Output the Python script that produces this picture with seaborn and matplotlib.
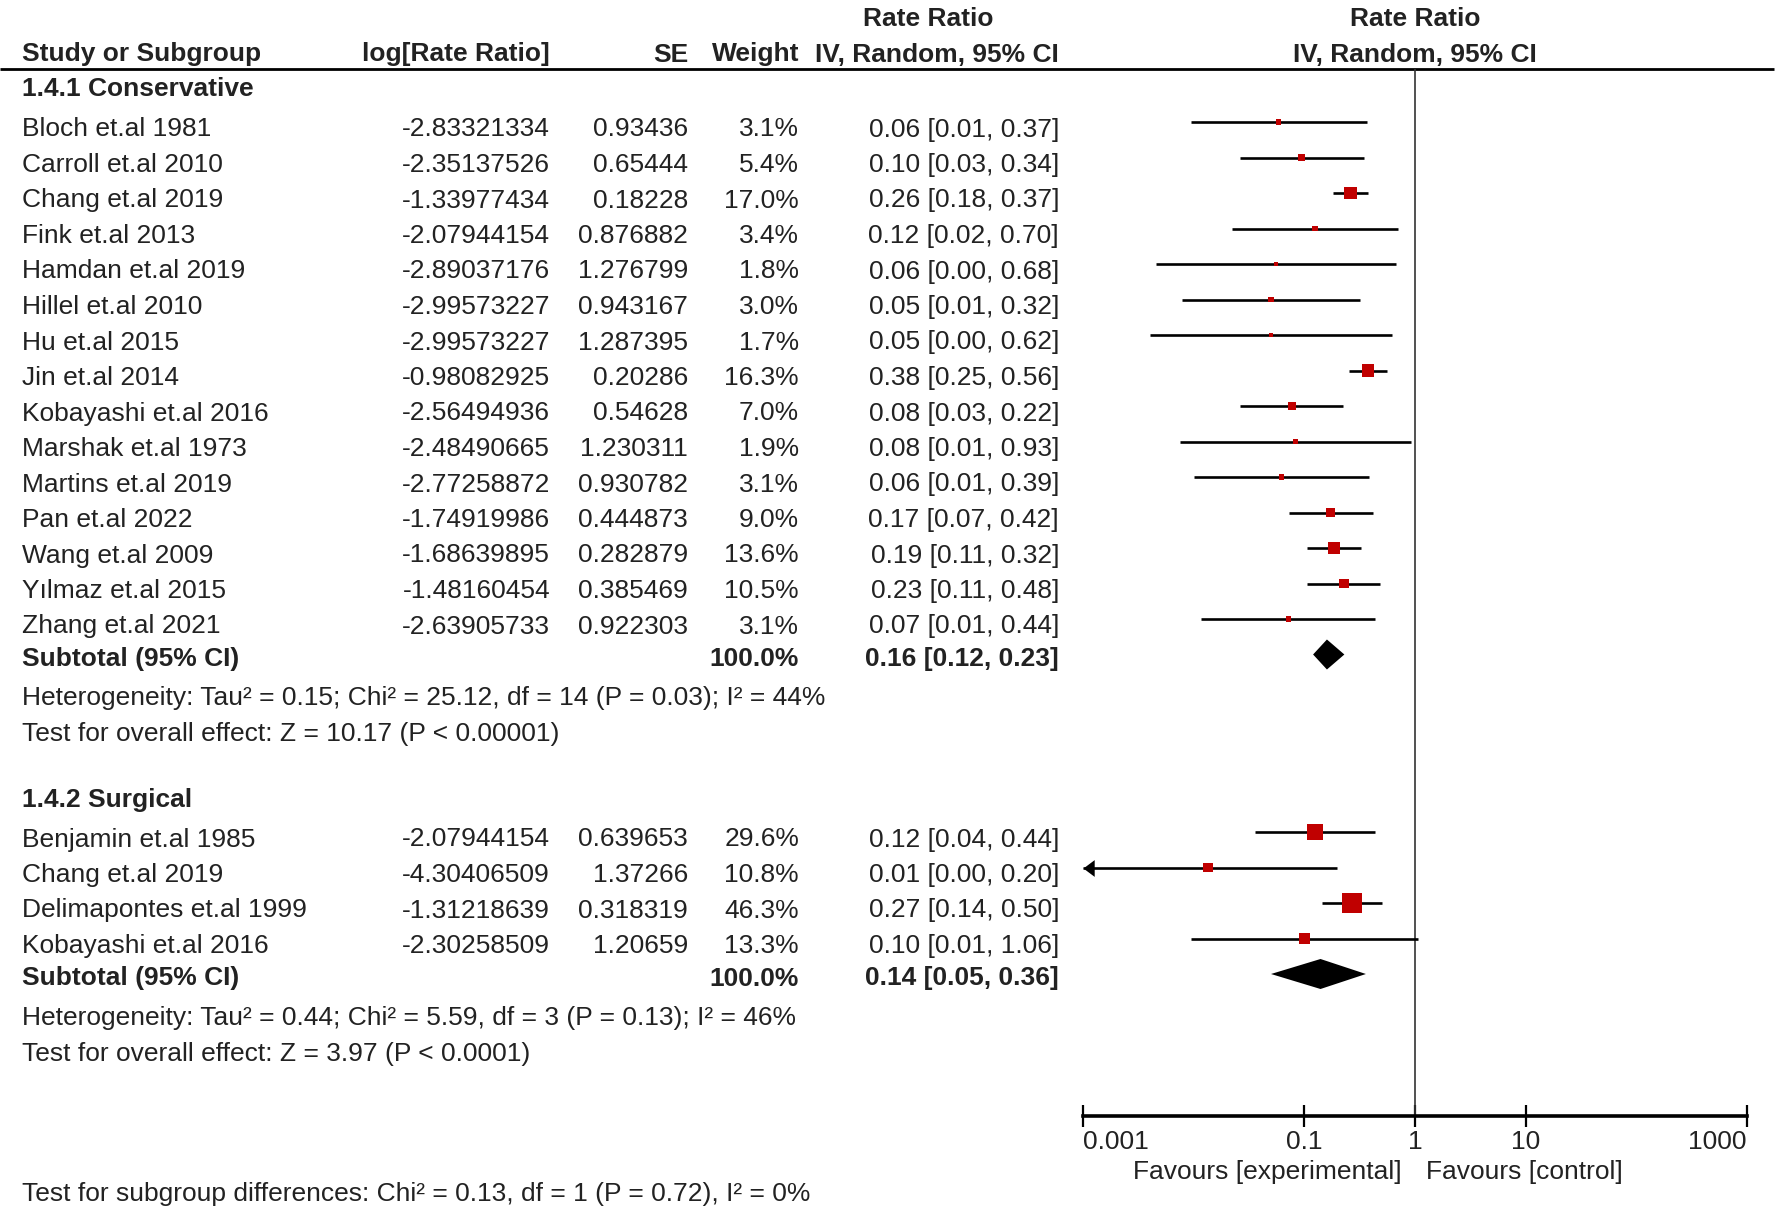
import numpy as np
import pandas as pd
import matplotlib
matplotlib.use("Agg")
import matplotlib.pyplot as plt
from matplotlib import font_manager as fm
from matplotlib.markers import MarkerStyle
from matplotlib.path import Path
import seaborn as sns

# ---------------- data ----------------
cons_studies = ["Bloch et.al 1981", "Carroll et.al 2010", "Chang et.al 2019", "Fink et.al 2013",
                "Hamdan et.al 2019", "Hillel et.al 2010", "Hu et.al 2015", "Jin et.al 2014",
                "Kobayashi et.al 2016", "Marshak et.al 1973", "Martins et.al 2019", "Pan et.al 2022",
                "Wang et.al 2009", "Yılmaz et.al 2015", "Zhang et.al 2021"]
cons_logrr = ["-2.83321334", "-2.35137526", "-1.33977434", "-2.07944154", "-2.89037176",
              "-2.99573227", "-2.99573227", "-0.98082925", "-2.56494936", "-2.48490665",
              "-2.77258872", "-1.74919986", "-1.68639895", "-1.48160454", "-2.63905733"]
cons_se = ["0.93436", "0.65444", "0.18228", "0.876882", "1.276799", "0.943167", "1.287395",
           "0.20286", "0.54628", "1.230311", "0.930782", "0.444873", "0.282879", "0.385469",
           "0.922303"]
cons_weight = [3.1, 5.4, 17.0, 3.4, 1.8, 3.0, 1.7, 16.3, 7.0, 1.9, 3.1, 9.0, 13.6, 10.5, 3.1]
cons_ci_text = ["0.06 [0.01, 0.37]", "0.10 [0.03, 0.34]", "0.26 [0.18, 0.37]", "0.12 [0.02, 0.70]",
                "0.06 [0.00, 0.68]", "0.05 [0.01, 0.32]", "0.05 [0.00, 0.62]", "0.38 [0.25, 0.56]",
                "0.08 [0.03, 0.22]", "0.08 [0.01, 0.93]", "0.06 [0.01, 0.39]", "0.17 [0.07, 0.42]",
                "0.19 [0.11, 0.32]", "0.23 [0.11, 0.48]", "0.07 [0.01, 0.44]"]
cons_total = [0.16, 0.12, 0.23]
cons_total_text = "0.16 [0.12, 0.23]"
cons_het = "Heterogeneity: Tau² = 0.15; Chi² = 25.12, df = 14 (P = 0.03); I² = 44%"
cons_test = "Test for overall effect: Z = 10.17 (P < 0.00001)"

surg_studies = ["Benjamin et.al 1985", "Chang et.al 2019", "Delimapontes et.al 1999", "Kobayashi et.al 2016"]
surg_logrr = ["-2.07944154", "-4.30406509", "-1.31218639", "-2.30258509"]
surg_se = ["0.639653", "1.37266", "0.318319", "1.20659"]
surg_weight = [29.6, 10.8, 46.3, 13.3]
surg_ci_text = ["0.12 [0.04, 0.44]", "0.01 [0.00, 0.20]", "0.27 [0.14, 0.50]", "0.10 [0.01, 1.06]"]
surg_total = [0.14, 0.05, 0.36]
surg_total_text = "0.14 [0.05, 0.36]"
surg_het = "Heterogeneity: Tau² = 0.44; Chi² = 5.59, df = 3 (P = 0.13); I² = 46%"
surg_test = "Test for overall effect: Z = 3.97 (P < 0.0001)"

subgroup_test = "Test for subgroup differences: Chi² = 0.13, df = 1 (P = 0.72), I² = 0%"
tick_values = [0.001, 0.1, 1, 10, 1000]
tick_labels = ["0.001", "0.1", "1", "10", "1000"]

# ---------------- style ----------------
sns.set_theme(style="white")


def has_font(name):
    try:
        fm.findfont(fm.FontProperties(family=name), fallback_to_default=False)
        return True
    except Exception:
        return False


main_font = "Liberation Sans Narrow" if has_font("Liberation Sans Narrow") else "Liberation Sans"
plt.rcParams["font.family"] = [main_font, "DejaVu Sans"]

FS = 19
TXT = "#222222"
RED = "#C00000"
W, H = 1776, 1208

fig = plt.figure(figsize=(W / 100, H / 100), dpi=100)
fig.patch.set_facecolor("white")
axt = fig.add_axes([0, 0, 1, 1])
axt.set_xlim(0, W)
axt.set_ylim(H, 0)
axt.axis("off")

X0, X1 = 1083, 1747      # pixel span of 0.001 .. 1000
YT, YB = 69, 1116        # header rule and axis line
axf = fig.add_axes([X0 / W, 1 - YB / H, (X1 - X0) / W, (YB - YT) / H])
axf.patch.set_alpha(0)

em = FS * 100 / 72
OFF = 0.36 * em


def txt(x, y, s, ha="left", bold=False):
    axt.text(x, y + OFF, s, ha=ha, va="baseline", fontsize=FS, color=TXT,
             fontweight="bold" if bold else "normal")


# column positions
C_NAME, C_LOG, C_SE, C_W, C_CI = 22, 550, 688, 799, 1059
C_PLOT = (X0 + X1) / 2
ROW_TXT = 5   # row text sits slightly below the plotted marks

# headers
txt(928, 16, "Rate Ratio", ha="center", bold=True)
txt(C_PLOT, 16, "Rate Ratio", ha="center", bold=True)
txt(C_NAME, 52, "Study or Subgroup", bold=True)
txt(C_LOG, 52, "log[Rate Ratio]", ha="right", bold=True)
txt(C_SE, 52, "SE", ha="right", bold=True)
txt(C_W, 52, "Weight", ha="right", bold=True)
txt(C_CI, 52, "IV, Random, 95% CI", ha="right", bold=True)
txt(C_PLOT, 52, "IV, Random, 95% CI", ha="center", bold=True)
axt.plot([0, 1774], [YT, YT], color="black", lw=2, solid_capstyle="butt")

STEP = 35.5
groups = [
    dict(title="1.4.1 Conservative", ytitle=87, y0=122, studies=cons_studies, logrr=cons_logrr,
         se=cons_se, weight=cons_weight, ci=cons_ci_text, total=cons_total,
         total_text=cons_total_text, het=cons_het, test=cons_test),
    dict(title="1.4.2 Surgical", ytitle=798, y0=832, studies=surg_studies, logrr=surg_logrr,
         se=surg_se, weight=surg_weight, ci=surg_ci_text, total=surg_total,
         total_text=surg_total_text, het=surg_het, test=surg_test),
]

arrow = MarkerStyle(Path([(0, 0), (1, 0.75), (1, -0.75), (0, 0)],
                         [Path.MOVETO, Path.LINETO, Path.LINETO, Path.CLOSEPOLY]))

frames = []
for g in groups:
    n = len(g["studies"])
    ys = g["y0"] + STEP * np.arange(n)
    lr = np.array([float(v) for v in g["logrr"]])
    se = np.array([float(v) for v in g["se"]])
    df = pd.DataFrame({"y": ys, "rr": np.exp(lr), "lo": np.exp(lr - 1.96 * se),
                       "hi": np.exp(lr + 1.96 * se), "weight": g["weight"]})
    frames.append(df)

    txt(C_NAME, g["ytitle"], g["title"], bold=True)
    for i in range(n):
        yt = ys[i] + ROW_TXT
        txt(C_NAME, yt, g["studies"][i])
        txt(C_LOG, yt, g["logrr"][i], ha="right")
        txt(C_SE, yt, g["se"][i], ha="right")
        txt(C_W, yt, f"{g['weight'][i]:.1f}%", ha="right")
        txt(C_CI, yt, g["ci"][i], ha="right")

    # CI lines
    lo_c = df["lo"].clip(lower=0.001)
    hi_c = df["hi"].clip(upper=1000)
    axf.hlines(df["y"], lo_c, hi_c, color="black", lw=1.9, zorder=2)
    off = df[df["lo"] < 0.001]
    if len(off):
        axf.scatter(np.full(len(off), 0.001), off["y"], marker=arrow, s=260, color="black",
                    linewidth=0, zorder=3, clip_on=False)

    # subtotal
    ysub = g["y0"] + STEP * n
    txt(C_NAME, ysub + 2, "Subtotal (95% CI)", bold=True)
    txt(C_W, ysub + 2, "100.0%", ha="right", bold=True)
    txt(C_CI, ysub + 2, g["total_text"], ha="right", bold=True)
    rr, lo, hi = g["total"]
    hh = 15
    axf.fill([lo, rr, hi, rr], [ysub, ysub - hh, ysub, ysub + hh], color="black", lw=0, zorder=3)
    txt(C_NAME, ysub + 41, g["het"])
    txt(C_NAME, ysub + 77, g["test"])

allpts = pd.concat(frames, ignore_index=True)
K = 4.7
sns.scatterplot(data=allpts, x="rr", y="y", size="weight", sizes=(0, K * 50), size_norm=(0, 50),
                marker="s", color=RED, linewidth=0, legend=False, ax=axf, zorder=4)

axf.set_xscale("log")
axf.set_xlim(0.001, 1000)
axf.set_ylim(YB, YT)
axf.axvline(1, color="#333333", lw=1.2, zorder=1)
axf.set_xlabel("")
axf.set_ylabel("")
axf.set_yticks([])
axf.set_xticks(tick_values)
axf.set_xticklabels(tick_labels)
axf.set_xticks([], minor=True)
for side in ["left", "right", "top"]:
    axf.spines[side].set_visible(False)
axf.spines["bottom"].set_color("black")
axf.spines["bottom"].set_linewidth(2.6)
axf.tick_params(axis="x", direction="inout", length=16, width=1.6, color="black",
                labelsize=FS, labelcolor=TXT, pad=2, bottom=True)
labs = axf.get_xticklabels()
labs[0].set_ha("left")
labs[-1].set_ha("right")

txt(1402, 1169, "Favours [experimental]", ha="right")
txt(1426, 1169, "Favours [control]", ha="left")
txt(C_NAME, 1192, subgroup_test)

fig.savefig("out.png", dpi=100, facecolor="white")
